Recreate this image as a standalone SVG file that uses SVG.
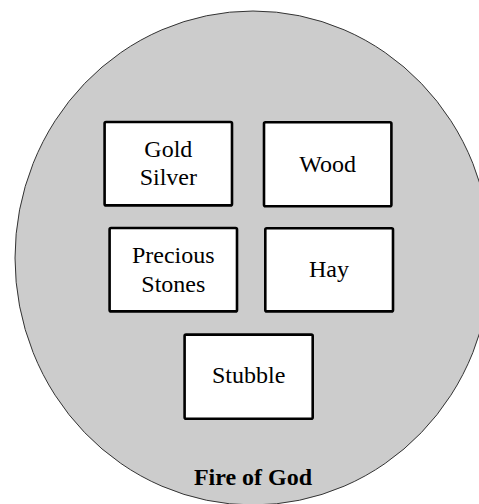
<svg xmlns="http://www.w3.org/2000/svg" width="479" height="504" viewBox="0 0 479 504">
<style>
.box{fill:#ffffff;stroke:#000000;stroke-width:2.6}
text{font-family:'Liberation Serif', Tinos, 'DejaVu Serif', serif;font-size:24px;fill:#000;text-anchor:middle}
.b{font-weight:bold}
</style>
<rect x="0" y="0" width="479" height="504" fill="#ffffff"/>
<g id="fire">
<ellipse cx="253" cy="258" rx="238" ry="247" fill="#cccccc" stroke="#333333" stroke-width="1"/>
<text class="b" x="253" y="485" font-family="Liberation Serif, serif">Fire of God</text>
</g>
<g id="connectors"></g>
<g id="gold-silver">
<rect class="box" x="104.6" y="122" width="127.4" height="83.4" rx="1.5"/>
<text x="168.3" y="156.7" font-family="Liberation Serif, serif">Gold</text>
<text x="168.3" y="185" font-family="Liberation Serif, serif">Silver</text>
</g>
<g id="wood">
<rect class="box" x="264" y="122.3" width="127.4" height="84" rx="1.5"/>
<text x="327.7" y="171.7" font-family="Liberation Serif, serif">Wood</text>
</g>
<g id="precious-stones">
<rect class="box" x="109.6" y="228" width="127.4" height="83.4" rx="1.5"/>
<text x="173.3" y="263" font-family="Liberation Serif, serif">Precious</text>
<text x="173.3" y="291.7" font-family="Liberation Serif, serif">Stones</text>
</g>
<g id="hay">
<rect class="box" x="265.3" y="228.3" width="127.7" height="83.1" rx="1.5"/>
<text x="329" y="276.7" font-family="Liberation Serif, serif">Hay</text>
</g>
<g id="stubble">
<rect class="box" x="184.6" y="334.6" width="128.1" height="84.1" rx="1.5"/>
<text x="248.7" y="383" font-family="Liberation Serif, serif">Stubble</text>
</g>
</svg>
